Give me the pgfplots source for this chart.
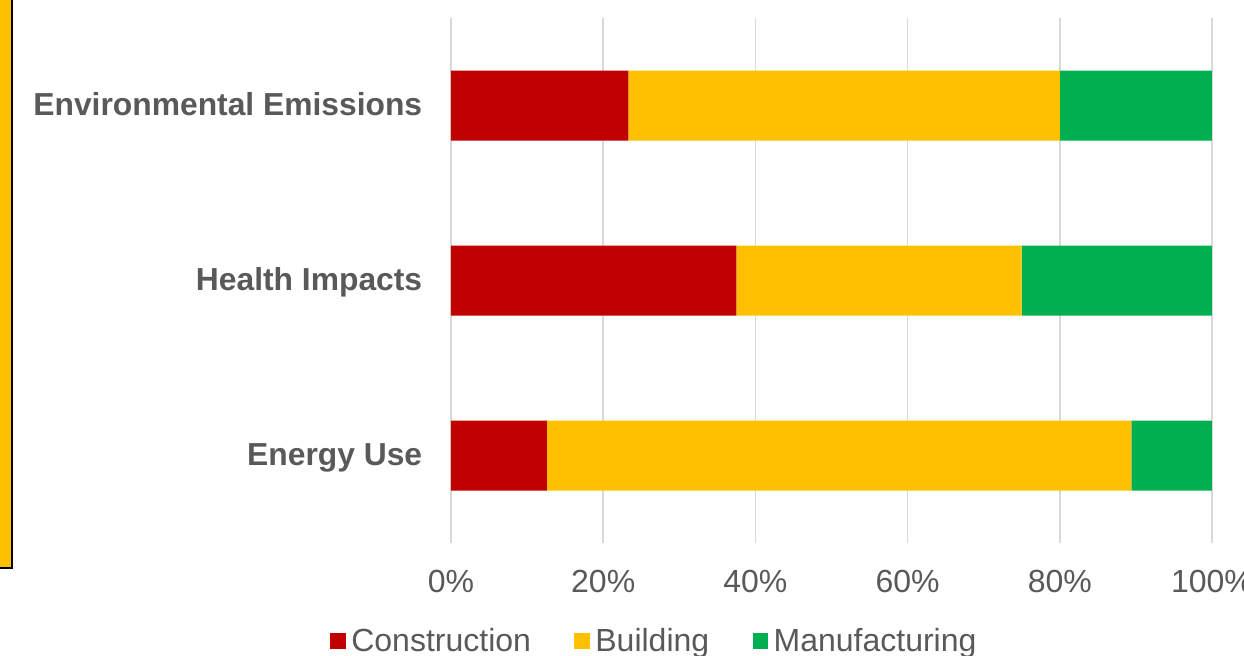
\documentclass[border=0pt]{standalone}
\usepackage{pgfplots}
\pgfplotsset{compat=1.18}
\usepackage{fontspec}
\setmainfont{Liberation Sans}
\definecolor{cRed}{HTML}{C00000}
\definecolor{cYel}{HTML}{FFC000}
\definecolor{cGrn}{HTML}{00B050}
\definecolor{cTxt}{HTML}{595959}
\definecolor{cGrid}{HTML}{D9D9D9}
\begin{document}
\begin{tikzpicture}
\path[use as bounding box] (-225.5pt,-56pt) rectangle (396.5pt,271.5pt);
\fill[cYel,draw=black,line width=1pt] (-228pt,-12.5pt) rectangle (-219.5pt,274pt);
\begin{axis}[
  at={(0pt,0pt)}, anchor=south west,
  scale only axis, width=380.5pt, height=262.5pt,
  xbar stacked, bar width=35pt,
  xmin=0, xmax=100, ymin=-0.5, ymax=2.5,
  xtick={0,20,40,60,80,100},
  xticklabels={0\%,20\%,40\%,60\%,80\%,100\%},
  ytick={0,1,2},
  yticklabels={Energy Use,Health Impacts,Environmental Emissions},
  xmajorgrids, major grid style={cGrid,line width=0.75pt},
  axis line style={draw=none},
  major tick length=0pt,
  xticklabel style={anchor=base, yshift=-24.5pt, text=cTxt, font=\fontsize{16}{18}\selectfont, inner sep=0pt},
  yticklabel style={anchor=base east, xshift=-14.2pt, yshift=-4.8pt, text=cTxt, font=\fontsize{15.9}{18}\selectfont\bfseries, inner sep=0pt},
  legend columns=-1,
  legend style={at={(0.2695,-0.1867)}, anchor=center, draw=none, fill=none,
    font=\fontsize{16}{18}\selectfont, text=cTxt,
    /tikz/every even column/.append style={column sep=19pt},
    nodes={inner sep=2.7pt}},
  legend image code/.code={\fill[#1,draw=none] (0pt,-3.9pt) rectangle (7.8pt,3.9pt);},
]
\addplot[fill=cRed, draw=none] coordinates {(12.6,0) (37.5,1) (23.3,2)};
\addplot[fill=cYel, draw=none] coordinates {(76.8,0) (37.5,1) (56.7,2)};
\addplot[fill=cGrn, draw=none] coordinates {(10.6,0) (25,1) (20,2)};
\legend{Construction,Building,Manufacturing}
\end{axis}
\end{tikzpicture}
\end{document}
